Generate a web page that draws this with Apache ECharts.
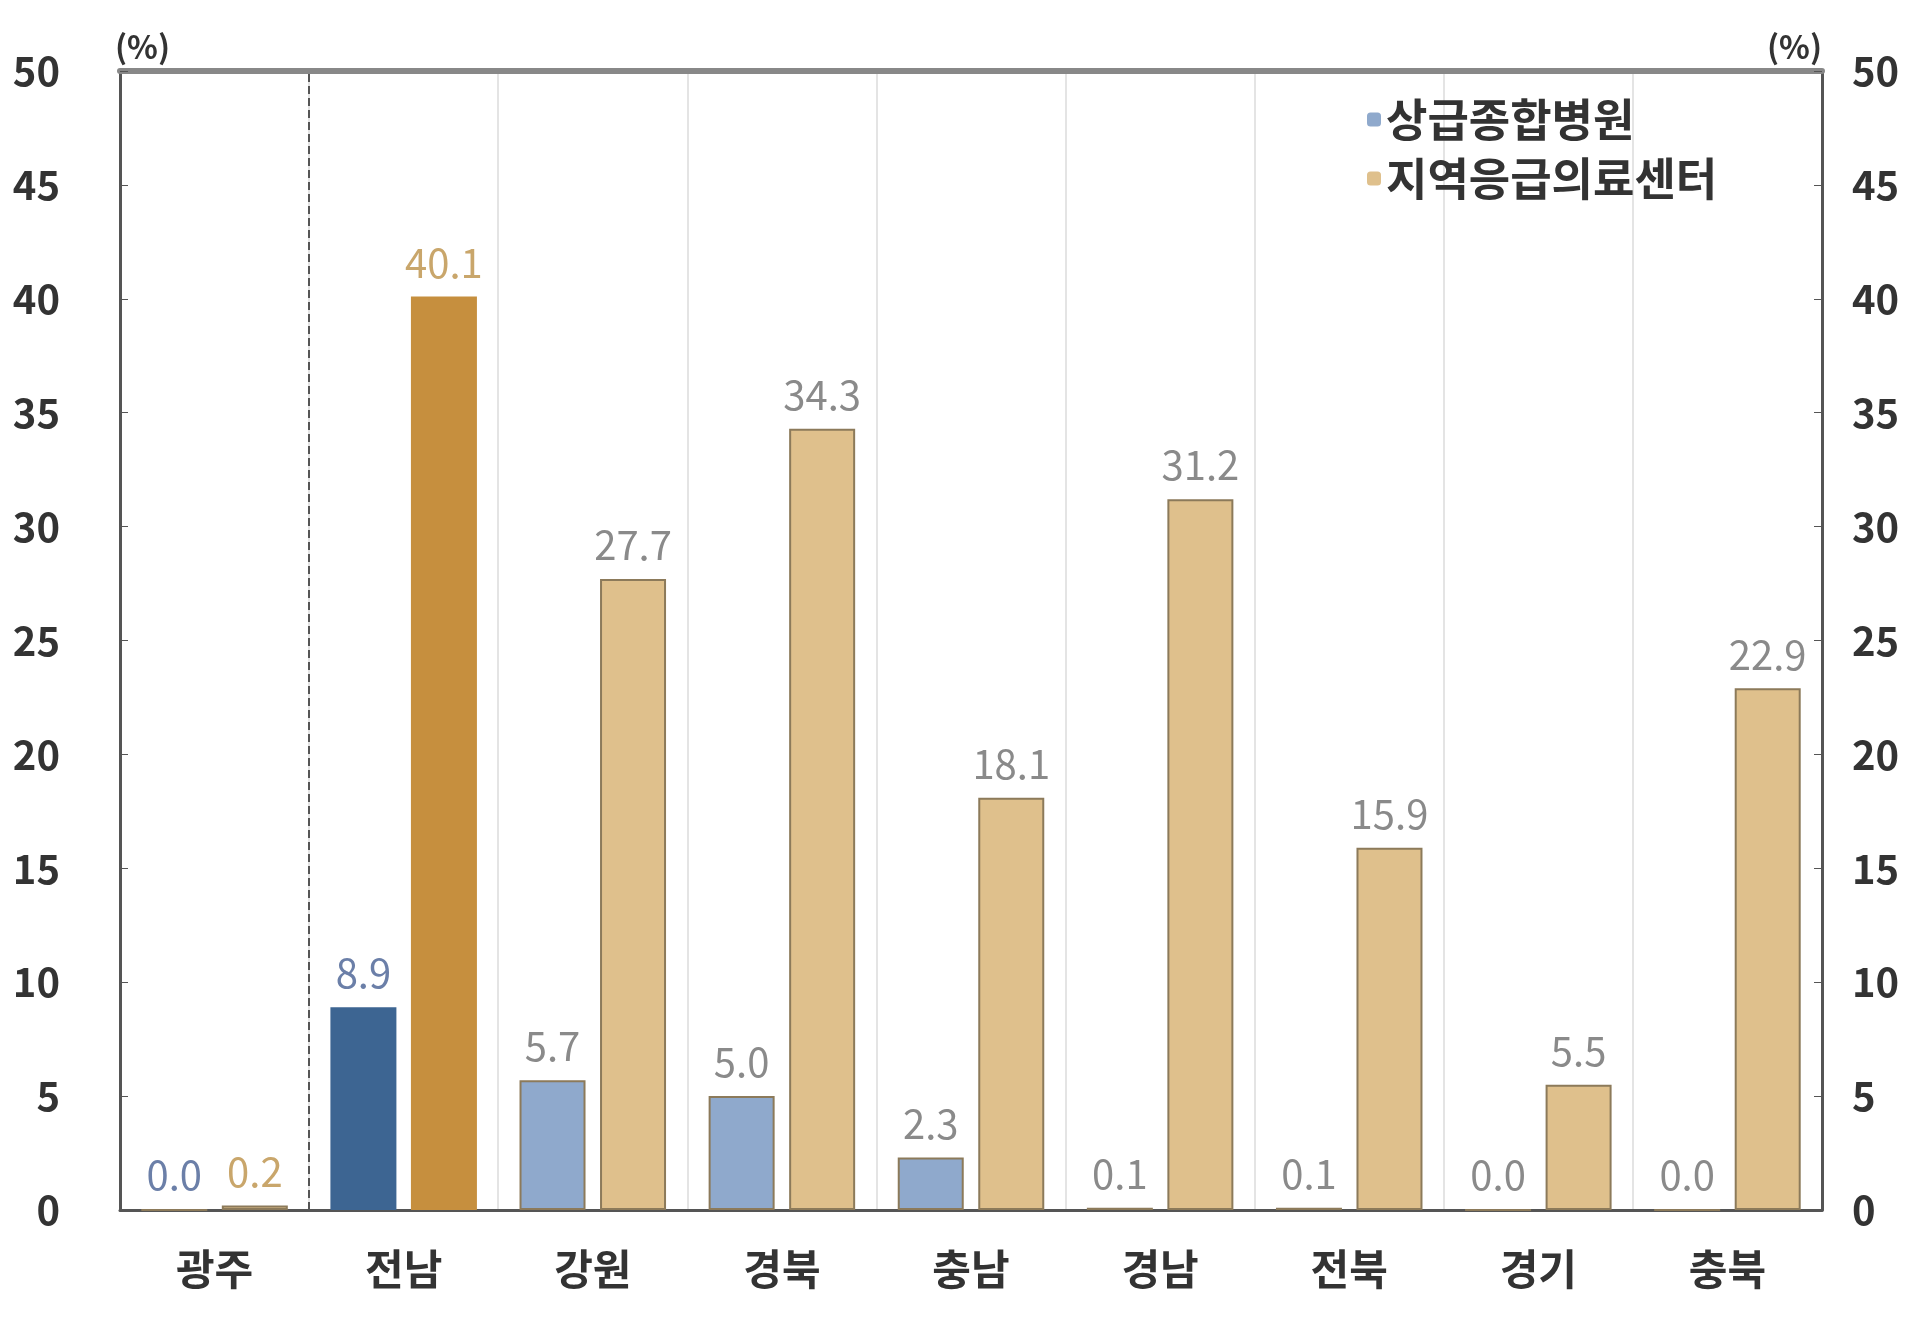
<!DOCTYPE html><html><head><meta charset="utf-8"><script src="https://cdn.jsdelivr.net/npm/echarts@6/dist/echarts.min.js"></script></head><body style="margin:0"><div id="c" style="width:1920px;height:1326px"></div><script>
const categories=['광주','전남','강원','경북','충남','경남','전북','경기','충북'];
const tertiary=[0.0,8.9,5.7,5.0,2.3,0.1,0.1,0.0,0.0];
const regional=[0.2,40.1,27.7,34.3,18.1,31.2,15.9,5.5,22.9];
const F='"Noto Sans CJK KR"';
const ch=echarts.init(document.getElementById('c'));
function items(arr,solid,light,lblColor){return arr.map((v,i)=>({value:v,
 itemStyle:{color:i===1?solid:light,borderColor:i===1?solid:'#8c7a5a',borderWidth:i===1?0:2},
 label:{color:i<=1?lblColor:'#8a8a8a'}}));}
ch.setOption({
 animation:false,
 grid:{left:120,right:98,top:71,bottom:116},
 legend:{orient:'vertical',left:1362,top:92,itemWidth:14,itemHeight:14,itemGap:14,
  textStyle:{fontFamily:F,fontSize:45,fontWeight:'bold',color:'#333'},
  data:['상급종합병원','지역응급의료센터']},
 xAxis:[{type:'category',data:categories,axisTick:{show:false},
  axisLine:{lineStyle:{color:'#555',width:3}},
  axisLabel:{fontFamily:F,fontSize:42,fontWeight:'bold',color:'#333',margin:38}},
  {type:'value',min:0,max:9,interval:1,position:'top',axisLabel:{show:false},axisTick:{show:false},
  axisLine:{show:true,onZero:false,lineStyle:{color:'#888',width:6}},splitLine:{show:true,lineStyle:{color:'#e4e4e4',width:2}}}],
 yAxis:[{type:'value',min:0,max:50,interval:5,name:'(%)',nameGap:8,nameTextStyle:{fontFamily:F,fontSize:32,fontWeight:'bold',color:'#333',align:'left',padding:[0,0,0,-5]},
  axisLine:{show:true,lineStyle:{color:'#555',width:3}},axisTick:{show:true,inside:true,length:8},
  splitLine:{show:false},axisLabel:{fontFamily:F,fontSize:40,fontWeight:'bold',color:'#333',margin:60}},
  {type:'value',min:0,max:50,interval:5,name:'(%)',nameGap:8,nameTextStyle:{fontFamily:F,fontSize:32,fontWeight:'bold',color:'#333',align:'right'},
  axisLine:{show:true,lineStyle:{color:'#555',width:3}},axisTick:{show:true,inside:true,length:8},
  splitLine:{show:false},axisLabel:{fontFamily:F,fontSize:40,fontWeight:'bold',color:'#333',margin:30}}],
 series:[
  {name:'상급종합병원',type:'bar',barWidth:66,barGap:'22%',itemStyle:{color:'#8fa9cc'},
   label:{show:true,position:'top',distance:14,fontFamily:F,fontSize:40,formatter:p=>p.value.toFixed(1)},
   data:items(tertiary,'#3d6592','#8fa9cc','#6b7fa8')},
  {name:'지역응급의료센터',type:'bar',barWidth:66,itemStyle:{color:'#dfc08c'},
   label:{show:true,position:'top',distance:14,fontFamily:F,fontSize:40,formatter:p=>p.value.toFixed(1)},
   data:items(regional,'#c68f3e','#dfc08c','#c9a66b')},
  {type:'line',xAxisIndex:1,data:[],markLine:{symbol:'none',silent:true,label:{show:false},
   lineStyle:{color:'#555',type:'dashed',width:2},data:[{xAxis:1}]}}
 ]});
</script></body></html>
